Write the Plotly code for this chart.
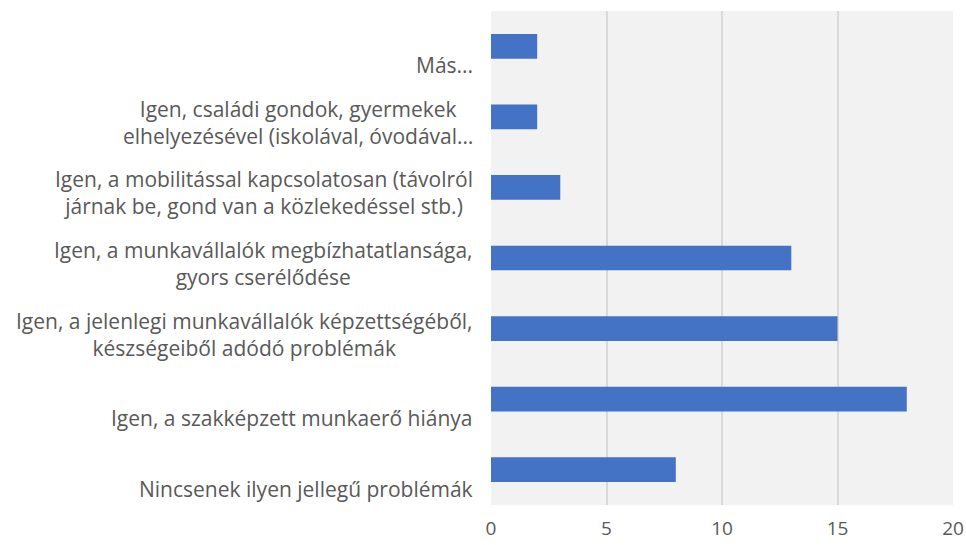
import plotly.graph_objects as go

# Categories listed bottom to top, as drawn on the y axis
categories = [
    "Nincsenek ilyen jellegű problémák",
    "Igen, a szakképzett munkaerő hiánya",
    "Igen, a jelenlegi munkavállalók képzettségéből,<br>készségeiből adódó problémák",
    "Igen, a munkavállalók megbízhatatlansága,<br>gyors cserélődése",
    "Igen, a mobilitással kapcsolatosan (távolról<br>járnak be, gond van a közlekedéssel stb.)",
    "Igen, családi gondok, gyermekek<br>elhelyezésével (iskolával, óvodával…",
    "Más...",
]
values = [8, 18, 15, 13, 3, 2, 2]
x_ticks = [0, 5, 10, 15, 20]

FONT = "Open Sans"
TEXT_COLOR = "#595959"

fig = go.Figure(
    go.Bar(
        y=list(range(len(categories))),
        x=values,
        orientation="h",
        marker=dict(color="#4472C4", line=dict(width=0)),
        width=0.35,
    )
)

# Category labels as centred multi-line annotations to the left of the plot
for i, label in enumerate(categories):
    fig.add_annotation(
        x=0, xref="paper", xanchor="right", xshift=-16,
        y=i, yref="y", yanchor="bottom", yshift=-35,
        text=label, align="center", showarrow=False,
        font=dict(family=FONT, size=21, color=TEXT_COLOR),
    )

fig.update_layout(
    width=966, height=545,
    margin=dict(l=491, r=13, t=11, b=40),
    paper_bgcolor="white",
    plot_bgcolor="#F2F2F2",
    showlegend=False,
    xaxis=dict(
        range=[0, 20], tickvals=x_ticks, ticktext=[str(v) for v in x_ticks],
        showgrid=True, gridcolor="#D9D9D9", gridwidth=1.5,
        zeroline=False, showline=False, ticks="",
        ticklabelstandoff=10, automargin=False,
        tickfont=dict(family=FONT, size=19, color=TEXT_COLOR),
    ),
    yaxis=dict(
        range=[-0.5, len(categories) - 0.5], automargin=False,
        showticklabels=False, showgrid=False, zeroline=False, ticks="",
    ),
)

fig.write_html("out.html")
